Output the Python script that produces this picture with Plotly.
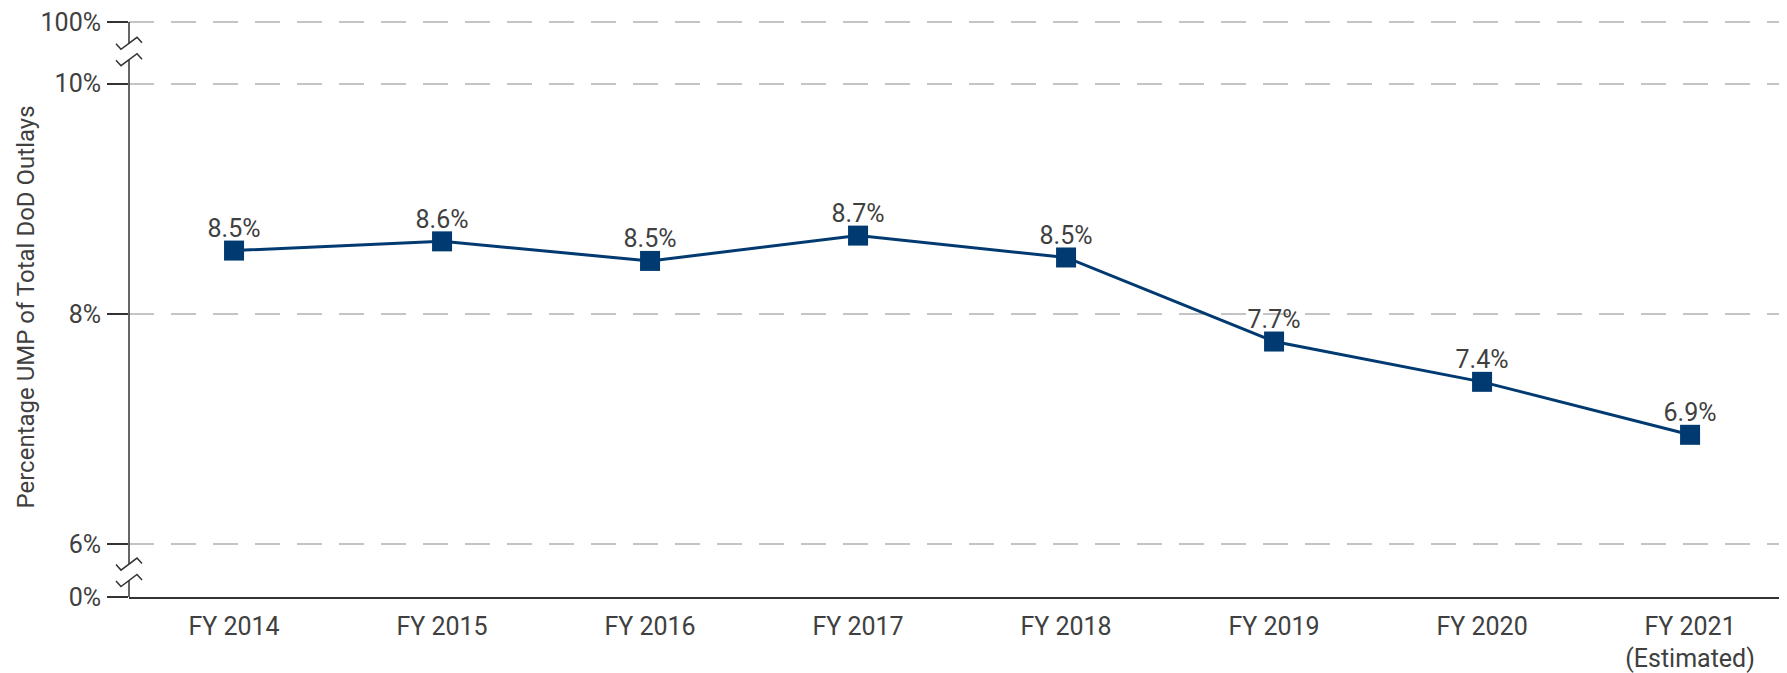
import plotly.graph_objects as go

# ---- data ----
categories = ["FY 2014", "FY 2015", "FY 2016", "FY 2017", "FY 2018", "FY 2019", "FY 2020", "FY 2021"]
tick_labels_x = ["FY 2014", "FY 2015", "FY 2016", "FY 2017", "FY 2018", "FY 2019", "FY 2020", "FY 2021<br>(Estimated)"]
values = [8.55, 8.63, 8.46, 8.68, 8.49, 7.76, 7.41, 6.95]
value_labels = ["8.5%", "8.6%", "8.5%", "8.7%", "8.5%", "7.7%", "7.4%", "6.9%"]

# broken y axis: positions of the tick values on the drawn scale
y_tickvals = [5.542, 6, 8, 10, 10.535]
y_ticktext = ["0%", "6%", "8%", "10%", "100%"]
y_range = [5.5415, 10.5523]
# axis-break centres (on the drawn scale)
breaks_top = [10.350, 10.208]
breaks_bottom = [5.827, 5.685]

NAVY = "#003A70"
TEXT = "#404040"
AXIS = "#333333"
FONT = "Roboto, Arial, sans-serif"

x_idx = list(range(len(categories)))

fig = go.Figure()
fig.add_trace(go.Scatter(
    x=x_idx, y=values,
    mode="lines+markers",
    line=dict(color=NAVY, width=3),
    marker=dict(symbol="square", size=20, color=NAVY),
    hoverinfo="skip",
    showlegend=False,
))
# value labels (transparent small markers only set the text offset)
fig.add_trace(go.Scatter(
    x=x_idx, y=values,
    mode="markers+text",
    marker=dict(size=10, color="rgba(0,0,0,0)"),
    text=value_labels,
    textposition="top center",
    textfont=dict(family=FONT, size=25, color=TEXT),
    cliponaxis=False,
    hoverinfo="skip",
    showlegend=False,
))

shapes = []
# y-axis line segments with gaps at the breaks
segs = [(y_tickvals[-1], breaks_top[0]), (breaks_top[1], breaks_bottom[0]), (breaks_bottom[1], y_tickvals[0])]
for a, b in segs:
    shapes.append(dict(type="line", xref="paper", yref="y", x0=0, x1=0, y0=a, y1=b,
                       line=dict(color=AXIS, width=1.5), layer="above"))
# zigzag break marks
for yc in breaks_top + breaks_bottom:
    shapes.append(dict(type="path", xref="paper", yref="y",
                       xsizemode="pixel", ysizemode="pixel", xanchor=0, yanchor=yc,
                       path="M-13,-0.5 L-8,-6 L8,6 L13,0.5",
                       line=dict(color=AXIS, width=1.5), layer="above"))

fig.update_layout(
    width=1779, height=665,
    margin=dict(l=121, r=0, t=11, b=74),
    paper_bgcolor="white", plot_bgcolor="white",
    font=dict(family=FONT, color=TEXT, size=25),
    shapes=shapes,
    xaxis=dict(
        range=[-0.505, 7.466],
        tickmode="array", tickvals=x_idx, ticktext=tick_labels_x,
        showgrid=False, zeroline=False,
        showline=True, linecolor=AXIS, linewidth=1.5,
        ticks="", ticklabelstandoff=6, ticklabeloverflow="allow",
        tickfont=dict(family=FONT, size=25, color=TEXT),
        fixedrange=True,
    ),
    yaxis=dict(
        range=y_range,
        tickmode="array", tickvals=y_tickvals, ticktext=y_ticktext,
        showgrid=True, gridcolor="#C4C4C4", gridwidth=1.5, griddash="25px,17px",
        zeroline=False, showline=False,
        ticks="outside", ticklen=21, tickwidth=1.5, tickcolor=AXIS,
        ticklabelstandoff=1, ticklabeloverflow="allow",
        tickfont=dict(family=FONT, size=25, color=TEXT),
        fixedrange=True,
    ),
    annotations=[dict(
        text="Percentage UMP of Total DoD Outlays",
        xref="paper", yref="paper", x=0, y=0.5, xshift=-104, yshift=1,
        textangle=-90, showarrow=False,
        font=dict(family=FONT, size=24, color=TEXT),
        xanchor="center", yanchor="middle",
    )],
)

fig.write_html("out.html")
